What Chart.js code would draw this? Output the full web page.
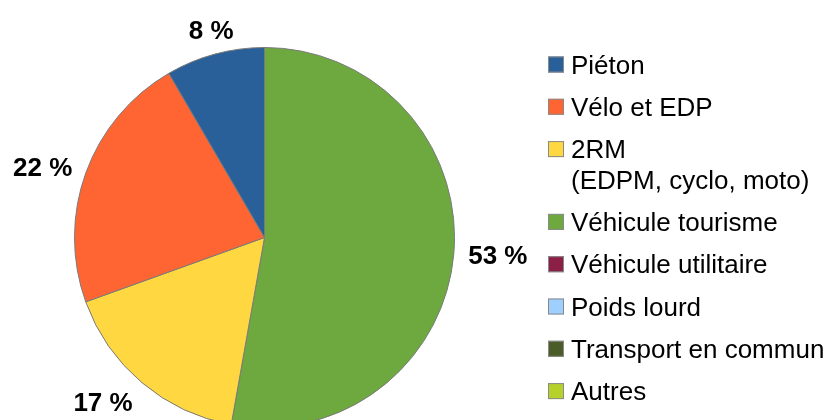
<!DOCTYPE html>
<html>
<head>
<meta charset="utf-8">
<script src="https://cdn.jsdelivr.net/npm/chart.js@4.4.0/dist/chart.umd.min.js"></script>
<style>
  html, body { margin: 0; padding: 0; background: #fff; overflow: hidden; }
  #wrap { width: 828px; height: 420px; overflow: hidden; }
</style>
</head>
<body>
<div id="wrap"><canvas id="chart" width="828" height="460"></canvas></div>
<script>
// categories in legend order
var categories = [
  "Piéton",
  "Vélo et EDP",
  ["2RM", "(EDPM, cyclo, moto)"],
  "Véhicule tourisme",
  "Véhicule utilitaire",
  "Poids lourd",
  "Transport en commun",
  "Autres"
];
// shares in % (labels show them rounded)
var shares = [8.4, 22.1, 16.7, 52.8, 0, 0, 0, 0];
var colours = ["#2a6099", "#ff6533", "#ffd740", "#6ea93f", "#8b1f45", "#9fcfff", "#4c5c28", "#b5d12a"];

// the pie turns counter-clockwise from the top, so feed it reversed
var pieLabels = categories.slice().reverse();
var pieData = shares.slice().reverse();
var pieColours = colours.slice().reverse();

var ctx = document.getElementById("chart");

var myChart = new Chart(ctx, {
  type: "pie",
  data: {
    labels: pieLabels,
    datasets: [
      {
        data: pieData,
        backgroundColor: pieColours,
        borderColor: "#7a7a7a",
        borderWidth: 1,
      },
    ],
  },
  options: {
    responsive: false,
    animation: false,
    events: [],
    layout: {
      padding: { left: 74, top: 47, right: 373, bottom: 32 },
    },
    plugins: {
      legend: { display: false },
      tooltip: { enabled: false },
    },
  },
  plugins: [
    {
      id: "pctLabels",
      afterDatasetsDraw: (chart) => {
        const c = chart.ctx;
        const meta = chart.getDatasetMeta(0);
        c.save();
        c.font = "bold 26px 'Liberation Sans', Arial, sans-serif";
        c.fillStyle = "#000";
        c.textAlign = "center";
        c.textBaseline = "middle";
        meta.data.forEach(function (arc, i) {
          const v = chart.data.datasets[0].data[i];
          if (!v) return;
          const p = arc.getProps(["x", "y", "startAngle", "endAngle", "outerRadius"], true);
          const mid = (p.startAngle + p.endAngle) / 2;
          const dx = Math.cos(mid), dy = Math.sin(mid);
          const txt = Math.round(v) + " %";
          const w = c.measureText(txt).width;
          const h = 18;
          const d = p.outerRadius + 14.5;
          // shift box away from the pie only along the dominant directions
          const sx = Math.abs(dx) > 0.38 ? Math.sign(dx) * w / 2 : 0;
          const sy = Math.abs(dy) > 0.38 ? Math.sign(dy) * h / 2 : 0;
          c.fillText(txt, p.x + dx * d + sx, p.y + dy * d + sy + 1);
        });
        c.restore();
      },
    },
    {
      id: "sideLegend",
      afterDraw: (chart) => {
        const c = chart.ctx;
        c.save();
        c.font = "26px 'Liberation Sans', Arial, sans-serif";
        c.textAlign = "left";
        c.textBaseline = "alphabetic";
        let y = 64.5; // centre of first row
        categories.forEach(function (lab, i) {
          const lines = Array.isArray(lab) ? lab : [lab];
          c.fillStyle = colours[i];
          c.fillRect(548, y - 8, 16, 16);
          c.strokeStyle = "#8a8a8a";
          c.lineWidth = 1;
          c.strokeRect(548.5, y - 7.5, 15, 15);
          c.fillStyle = "#000";
          lines.forEach(function (t, k) {
            c.fillText(t, 571, y + 9 + k * 30.5);
          });
          y += 42.3 + (lines.length - 1) * 30.5;
        });
        c.restore();
      },
    },
  ],
});
</script>
</body>
</html>
